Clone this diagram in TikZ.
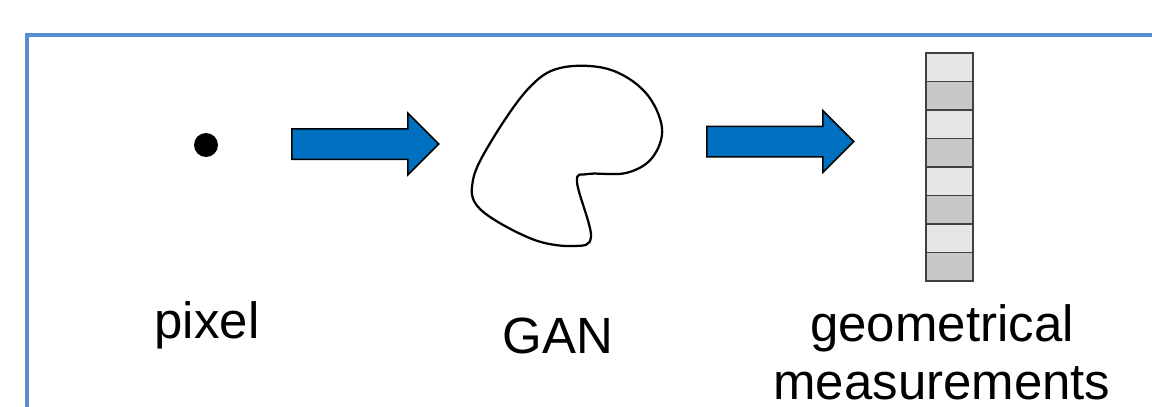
\documentclass[tikz,border=0pt]{standalone}
\usepackage{fontspec}
\setmainfont{Liberation Sans}
\usetikzlibrary{shapes.arrows,shapes.geometric,positioning}
\definecolor{framecol}{RGB}{85,142,213}
\definecolor{arrowcol}{RGB}{0,112,192}
\definecolor{celllight}{RGB}{230,230,230}
\definecolor{celldark}{RGB}{200,200,200}

\begin{document}
\begin{tikzpicture}[x=0.02cm, y=-0.02cm,
    fatarrow/.style={single arrow, draw=black, fill=arrowcol, line width=0.03cm, anchor=west,
    inner xsep=0pt, inner ysep=0.29cm, single arrow head extend=0.31cm, minimum height=2.94cm},
    cell/.style={rectangle, draw=black!75, line width=0.03cm, minimum width=0.94cm, minimum height=0.57cm, inner sep=0pt},
    caption/.style={anchor=base, font=\fontsize{29}{32.5}\selectfont, align=center, inner sep=0pt}]
    \useasboundingbox (0,0) rectangle (1152,406);
    \begin{scope}
        \clip (0,0) rectangle (1152,406);
        \draw[framecol, line width=0.08cm] (1300,34.5) -- (26.5,34.5) -- (26.5,500);
    \end{scope}

    \node (pixel) [circle, fill=black, minimum size=0.48cm, inner sep=0pt] at (206,145) {};

    \node (arrowA) [fatarrow] at (291,144) {};

    % the GAN blob
    \draw[line width=0.045cm] plot[smooth cycle, tension=0.6] coordinates {
        (560,68) (608,69) (645,92) (662,128) (652,158) (626,173) (588,174) (577,182)
        (591,236) (574,246) (532,239) (480,209) (473,180) (492,140) (528,89)};

    \node (arrowB) [fatarrow] at (706,141.5) {};

    \foreach \i in {0,...,7} {
        \ifodd\i \def\shade{celldark}\else \def\shade{celllight}\fi
        \node (cell\i) [cell, fill=\shade] at (949.5,{53+28.5*(\i+0.5)}) {};
    }

    \node (pixellbl) [caption] at (207,338) {pixel};
    \node (ganlbl) [caption] at (558,353) {GAN};
    \node (measlbl) [caption] at (942,399) {geometrical\\measurements};
\end{tikzpicture}
\end{document}
